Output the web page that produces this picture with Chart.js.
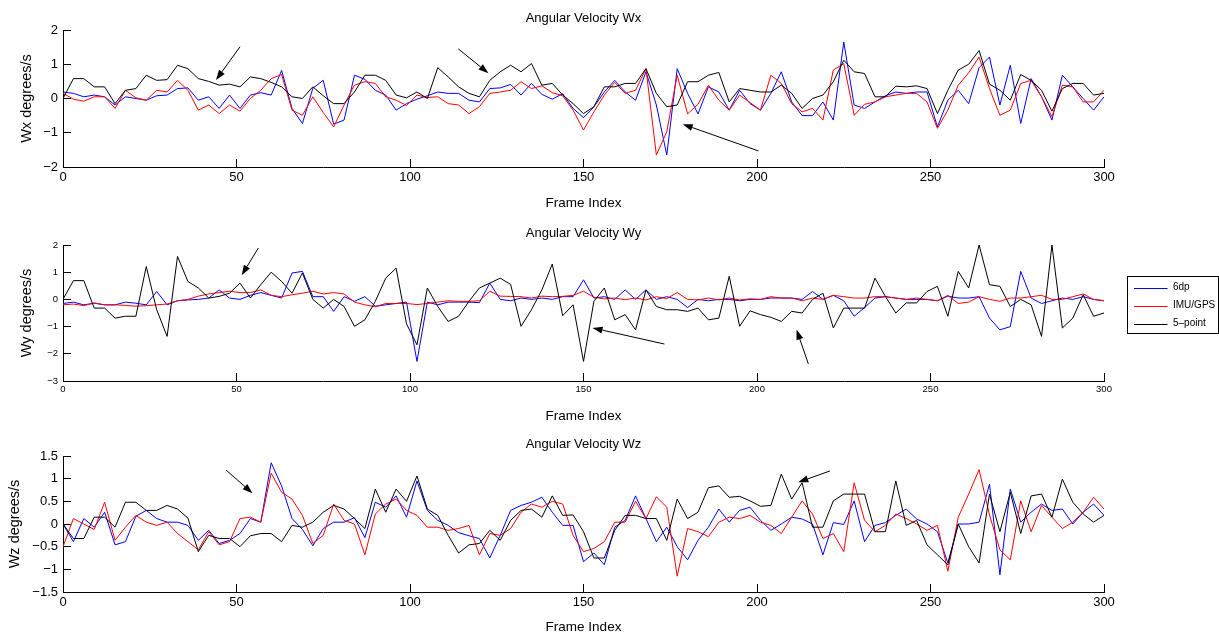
<!DOCTYPE html>
<html>
<head>
<meta charset="utf-8">
<script src="https://cdn.jsdelivr.net/npm/chart.js@4.4.1/dist/chart.umd.min.js"></script>
<style>
  html, body { margin: 0; padding: 0; background: #fff; overflow: hidden; width: 1219px; height: 635px; position: relative; }
  canvas { position: absolute; left: 0; }
</style>
</head>
<body>
<canvas id="wx" width="1219" height="215"></canvas>
<canvas id="wy" width="1219" height="215"></canvas>
<canvas id="wz" width="1219" height="215"></canvas>
<script>
// frame index of each sample
const frames = [0,3,6,9,12,15,18,21,24,27,30,33,36,39,42,45,48,51,54,57,60,63,66,69,72,75,78,81,84,87,90,93,96,99,
  102,105,108,111,114,117,120,123,126,129,132,135,138,141,144,147,150,153,156,159,162,165,168,171,174,177,180,183,186,189,192,195,198,
  201,204,207,210,213,216,219,222,225,228,231,234,237,240,243,246,249,252,255,258,261,264,267,270,273,276,279,282,285,288,291,294,297,300];

const seriesNames = ['6dp', 'IMU/GPS', '5–point'];
const seriesColors = ['#0000ff', '#ff0000', '#000000'];
const xTicks = [0, 50, 100, 150, 200, 250, 300];

// Wx (degrees/s)
const wx6dp = [0.19,0.15,0.05,0.1,0.05,-0.19,0.05,0,-0.05,0.08,0.1,0.29,0.31,-0.05,0.05,-0.29,0.1,
  -0.29,0.1,0.17,0.1,0.82,-0.29,-0.73,0.3,0.53,-0.75,-0.63,0.68,0.56,0.24,0.1,-0.34,-0.15,
  -0.02,0.08,0.19,0.15,0.15,-0.05,-0.1,0.29,0.31,0.41,0.1,0.44,0.12,-0.02,0.14,-0.29,-0.56,
  -0.24,0.19,0.53,0.19,-0.05,0.78,-0.19,-1.65,0.87,0.15,-0.45,0.34,0.19,-0.34,0.24,-0.15,-0.34,
  0.15,0.78,-0.1,-0.5,-0.5,-0.1,-0.63,1.65,-0.19,-0.29,-0.1,0.08,0.19,0.15,0.19,0.19,-0.83,
  -0.05,0.24,-0.15,0.9,1.21,-0.19,0.97,-0.73,0.58,0.05,-0.63,0.68,0.34,0,-0.34,0.05];
const wxImu = [0.15,-0.02,-0.08,0.05,0.05,-0.29,0.24,0.02,-0.05,0.24,0.19,0.53,0.24,-0.34,-0.19,-0.44,-0.19,
  -0.37,0,0.24,0.58,0.7,-0.34,-0.49,0.05,-0.41,-0.83,-0.19,0.39,0.49,0.44,0.05,-0.05,-0.2,
  0.1,0.03,0.05,-0.15,-0.19,-0.44,-0.24,0.15,0.19,0.24,0.49,0.29,0.37,0.17,0.08,-0.34,-0.92,
  -0.39,0.1,0.47,0.15,0.24,0.87,-1.65,-0.97,0.68,-0.45,-0.17,0.39,-0.05,-0.34,0.1,-0.12,-0.34,
  0.68,0.44,-0.15,-0.39,-0.29,-0.63,0.83,1.02,-0.49,-0.17,-0.1,0.05,0.1,0.15,0.15,-0.1,-0.87,
  -0.34,0.39,0.75,1.21,0.29,-0.49,-0.34,0.44,0.53,0.05,-0.53,0.39,0.34,-0.1,-0.1,0.24];
const wx5pt = [0,0.58,0.58,0.34,0.34,-0.15,0.24,0.29,0.68,0.53,0.55,0.97,0.87,0.58,0.5,0.39,0.42,
  0.34,0.63,0.58,0.47,0.34,0.05,0,0.34,0.08,-0.15,-0.15,0.19,0.68,0.68,0.53,0.1,0.02,
  0.19,0,0.9,0.63,0.34,0.15,0.05,0.53,0.78,0.97,0.78,1.02,0.39,0.44,0.1,-0.15,-0.44,
  -0.24,0.34,0.34,0.44,0.44,0.87,0.15,-0.24,-0.19,0.49,0.49,0.68,0.76,-0.1,0.29,0.24,0.19,
  0.19,0.39,0.15,-0.29,0,0.1,0.49,1.12,0.78,0.73,0.05,0.05,0.36,0.34,0.37,0.29,-0.44,
  0.24,0.83,1.0,1.4,0.42,0.24,-0.05,0.7,0.53,0.24,-0.37,0.29,0.44,0.44,0.1,0.15];

// Wy (degrees/s)
const wy6dp = [-0.15,-0.1,-0.2,-0.14,-0.2,-0.2,-0.1,-0.14,-0.2,0.29,-0.2,-0.05,-0.02,0,0.05,0.35,0.05,
  0,0.15,0.25,0.15,0.05,0.97,1.03,0.1,0.1,-0.44,0.1,-0.07,0.1,-0.25,-0.2,-0.15,-0.1,
  -2.28,-0.1,-0.2,-0.1,-0.1,-0.1,-0.12,0.6,0,-0.05,0.05,0,0.05,0,0.1,0.1,0.72,
  0.05,0.1,0,0.35,0,0.35,0,0.1,0,-0.3,0,-0.05,0,0,-0.05,0,0,
  0.05,0.05,0.05,0,0.29,0,0.15,-0.05,-0.62,-0.3,0.05,0.1,0.05,0,0,0,-0.05,
  0.12,0.05,0.05,0.1,-0.69,-1.12,-1.0,1.03,0.05,-0.15,-0.05,0.05,0,0.1,0,-0.05];
const wyImu = [-0.2,-0.17,-0.23,-0.13,-0.2,-0.2,-0.22,-0.25,-0.23,-0.2,-0.17,-0.05,0,0.12,0.2,0.25,0.3,
  0.25,0.25,0.35,0.15,0.1,0.17,0.23,0.3,0.2,0.25,0.2,-0.1,-0.2,-0.27,-0.15,-0.15,-0.15,
  -0.19,-0.15,-0.1,-0.05,-0.07,-0.07,-0.05,0.3,0.12,0.11,0.1,0.05,0.12,0.1,0.11,0.15,0.3,
  0.08,0.02,0.05,-0.01,0.05,-0.02,0.1,0.03,0.25,0,-0.02,0.05,-0.02,0.05,-0.02,0.02,0,
  0.1,0.05,0.05,-0.05,0.05,0,0.15,0.1,0.05,0.05,0.1,0.1,0.05,0,0.05,0,-0.05,
  0.15,-0.15,-0.1,0.1,0,-0.07,0.05,0.05,0.1,0.15,0,0,0.1,0.2,0,-0.05];
const wy5pt = [0,0.69,0.69,-0.32,-0.32,-0.69,-0.62,-0.62,1.21,-0.38,-1.36,1.58,0.66,0.42,0.05,0.11,0.23,
  0.6,0.05,0.54,1.0,0.66,0.23,0.97,0,-0.32,0,-0.26,-0.99,-0.75,-0.07,0.78,1.15,-0.9,
  -1.67,0.42,-0.26,-0.81,-0.62,-0.07,0.42,0.6,0.78,0.55,-0.99,-0.38,0.35,1.3,-0.6,-0.2,-2.28,
  -0.07,0.42,-0.75,-0.56,-1.12,0.35,-0.26,-0.38,-0.38,-0.44,-0.32,-0.75,-0.69,0.85,-0.99,-0.42,-0.56,
  -0.66,-0.81,-0.44,-0.5,0,0.23,-1.05,-0.32,-0.32,-0.32,0.78,0.11,-0.5,-0.13,-0.13,0.29,0.48,
  -0.62,1.03,0.42,2.0,0.54,0.48,-0.26,0,-0.2,-1.36,2.0,-1.05,-0.69,0.17,-0.62,-0.5];

// Wz (degrees/s)
const wz6dp = [0,-0.39,0.12,-0.07,0.26,-0.46,-0.39,0.17,0.3,0.12,0.04,0.04,-0.03,-0.36,-0.14,-0.43,-0.36,
  -0.21,0.12,0.04,1.35,0.84,0.12,-0.12,-0.48,-0.1,0.04,0.04,0.14,-0.3,0.48,0.37,0.62,0.15,
  0.95,0.3,0.08,-0.03,-0.19,-0.26,-0.32,-0.75,-0.25,0.3,0.41,0.48,0.59,0.26,-0.03,-0.03,-0.83,
  -0.64,-0.9,-0.07,0.08,0.62,0.12,-0.39,-0.07,-0.5,-0.79,-0.36,-0.07,0.33,0.04,0.3,0.37,0.08,
  -0.14,0,0.15,0.11,0,-0.68,0.03,-0.01,0.51,-0.39,-0.03,0.03,0.19,0.33,0.11,0,-0.17,
  -0.86,0,0,0.04,0.88,-1.12,0.77,0.04,0.26,0.44,0.3,0.33,0,0.26,0.44,0.19];
const wzImu = [-0.5,0.12,0,-0.12,0.48,-0.36,-0.07,0.19,0.04,-0.03,0.04,-0.21,-0.39,-0.57,-0.17,-0.46,-0.39,
  0.12,0.15,0.04,1.12,0.7,0.55,0.19,-0.43,-0.25,0.44,0.08,0,-0.68,0.22,0.44,0.55,0.3,
  0.19,-0.07,-0.07,-0.14,-0.1,-0.03,-0.68,-0.21,-0.25,-0.1,0.26,0.44,0.37,0.5,0.44,-0.25,-0.61,
  -0.54,-0.39,0.04,0.04,0.5,0.12,0.6,0.37,-1.15,-0.1,-0.17,-0.28,0.04,0.15,0.12,0.19,0.04,
  -0.03,-0.21,0.15,0.51,0.22,-0.32,-0.21,-0.61,0.91,0.08,-0.17,-0.03,0.22,0.12,0,-0.14,-0.03,
  -1.04,0.15,0.66,1.2,0.2,-0.57,-0.79,0.51,-0.17,0.41,0.15,-0.1,0.04,0.26,0.59,0.33];
const wz5pt = [0,-0.32,-0.32,0.15,0.15,-0.07,0.48,0.48,0.3,0.3,0.41,0.33,0.13,-0.61,-0.25,-0.32,-0.32,
  -0.5,-0.26,-0.21,-0.21,-0.39,-0.03,-0.07,0.04,0.26,0.41,0.33,0.12,-0.1,0.77,0.26,0.77,0.5,
  1.06,0.33,0.19,-0.25,-0.64,-0.46,-0.43,-0.14,-0.36,0.08,0.3,0.33,0.15,0.62,0.19,0.2,-0.17,
  -0.75,-0.75,-0.14,0.19,0.19,0.12,0.12,-0.36,0.55,0.12,0.26,0.8,0.84,0.59,0.61,0.51,0.39,
  0.41,1.1,0.55,0.91,-0.07,-0.07,0.51,0.66,0.66,0.66,-0.17,-0.17,0.95,-0.03,0.08,-0.46,-0.68,
  -0.9,0,-0.5,-0.86,0.66,-0.17,0.7,-0.21,0.62,0.66,0.15,0.99,0.48,0.22,0.04,0.19];

// annotation arrows: [fromFrame, fromValue, toFrame, toValue]
const wxArrows = [[51, 1.51, 44.1, 0.54], [113.9, 1.45, 122.6, 0.74], [200.4, -1.53, 178.6, -0.75]];
const wyArrows = [[56.3, 1.89, 51.5, 0.89], [173.3, -1.64, 152.6, -1.05], [214.8, -2.37, 211.4, -1.11]];
const wzArrows = [[47, 1.19, 54.6, 0.68], [221, 1.17, 211.9, 0.92]];

const FONT = "'Liberation Sans', Arial, Helvetica, sans-serif";
Chart.defaults.font.family = FONT;
Chart.defaults.color = '#000';
Chart.defaults.animation = false;

const pts = vals => frames.map((f, i) => ({ x: f, y: vals[i] }));
const fmt = v => String(Math.round(v * 10) / 10).replace('-', '\u2212');

function arrowPlugin(list) {
  return {
    id: 'arrows',
    afterDatasetsDraw(chart) {
      const { ctx, scales: { x, y } } = chart;
      ctx.save();
      ctx.strokeStyle = '#000';
      ctx.fillStyle = '#000';
      ctx.lineWidth = 1;
      list.forEach(([fx, fy, tx, ty]) => {
        const x0 = x.getPixelForValue(fx), y0 = y.getPixelForValue(fy);
        const x1 = x.getPixelForValue(tx), y1 = y.getPixelForValue(ty);
        const a = Math.atan2(y1 - y0, x1 - x0);
        const bx = x1 - 10 * Math.cos(a), by = y1 - 10 * Math.sin(a);
        ctx.beginPath();
        ctx.moveTo(x0, y0);
        ctx.lineTo(bx, by);
        ctx.stroke();
        ctx.beginPath();
        ctx.moveTo(x1, y1);
        ctx.lineTo(bx - 3.5 * Math.sin(a), by + 3.5 * Math.cos(a));
        ctx.lineTo(bx + 3.5 * Math.sin(a), by - 3.5 * Math.cos(a));
        ctx.closePath();
        ctx.fill();
      });
      ctx.restore();
    }
  };
}

// boxed legend to the right of the plot, drawn from the chart's own datasets
const boxLegend = {
  id: 'boxLegend',
  afterDraw(chart) {
    const { ctx, chartArea } = chart;
    const left = chartArea.right + 23.5, top = 64.5, w = 91, h = 57;
    ctx.save();
    ctx.fillStyle = '#fff';
    ctx.fillRect(left, top, w, h);
    ctx.strokeStyle = '#000';
    ctx.lineWidth = 1;
    ctx.strokeRect(left, top, w, h);
    ctx.font = '10px ' + FONT;
    ctx.textBaseline = 'middle';
    chart.data.datasets.forEach((ds, i) => {
      const y = top + 11 + i * 18;
      ctx.strokeStyle = ds.borderColor;
      ctx.beginPath();
      ctx.moveTo(left + 6.5, Math.round(y) + 0.5);
      ctx.lineTo(left + 40, Math.round(y) + 0.5);
      ctx.stroke();
      ctx.fillStyle = '#000';
      ctx.fillText(ds.label, left + 45.5, y);
    });
    ctx.restore();
  }
};

const H = 215;

function makePanel(id, p) {
  const el = document.getElementById(id);
  el.style.top = p.canvasTop + 'px';
  const titleTop = p.titleY - p.canvasTop - 7.8;
  const titleBottom = p.areaTop - p.canvasTop - titleTop - 15.6;
  const xHeight = p.canvasTop + H - p.areaBottom;
  const xTitlePad = p.canvasTop + H - p.xTitleY - 8.1;

  const axisLine = { display: true, color: '#000', width: 1 };
  const tickGrid = { display: true, drawOnChartArea: false, drawTicks: true, tickLength: -8, color: '#000', tickColor: '#000', lineWidth: 1 };

  const plugins = [arrowPlugin(p.arrows)];
  if (p.legend) plugins.push(boxLegend);

  return new Chart(el, {
    type: 'line',
    data: {
      datasets: [
        { label: seriesNames[0], data: pts(p.blue), borderColor: seriesColors[0], order: 3 },
        { label: seriesNames[1], data: pts(p.red), borderColor: seriesColors[1], order: 2 },
        { label: seriesNames[2], data: pts(p.black), borderColor: seriesColors[2], order: 1 },
      ],
    },
    options: {
      responsive: false,
      animation: false,
      events: [],
      datasets: { line: { borderWidth: 1, pointRadius: 0, tension: 0, fill: false } },
      layout: { padding: { left: 0, right: 115, top: 0, bottom: 0 } },
      scales: {
        x: {
          type: 'linear', min: 0, max: 300,
          afterBuildTicks: s => { s.ticks = xTicks.map(v => ({ value: v })); },
          ticks: { font: { size: p.tickSize }, color: '#000', padding: 11, maxRotation: 0, autoSkip: false },
          grid: tickGrid,
          border: axisLine,
          title: { display: true, text: 'Frame Index', font: { size: 13.5 }, color: '#000', padding: { top: 0, bottom: xTitlePad } },
          afterFit: s => { s.height = xHeight; },
        },
        y: {
          min: p.min, max: p.max,
          ticks: { stepSize: p.step, font: { size: p.tickSize }, color: '#000', padding: 13, callback: v => fmt(v) },
          grid: tickGrid,
          border: axisLine,
          title: { display: true, text: p.ylabel, font: { size: 14.5 }, color: '#000', padding: { top: p.yTitleX - 8.7, bottom: 0 } },
          afterFit: s => { s.width = 63; },
        },
      },
      plugins: {
        legend: { display: false },
        tooltip: { enabled: false },
        title: {
          display: true, text: p.title, fullSize: false, color: '#000',
          font: { size: 13, weight: 'normal', lineHeight: 1.2 },
          padding: { top: titleTop, bottom: titleBottom },
        },
      },
    },
    plugins,
  });
}

makePanel('wx', { canvasTop: 0, areaTop: 30, areaBottom: 167, titleY: 18, xTitleY: 203, yTitleX: 27,
  title: 'Angular Velocity Wx', ylabel: 'Wx degrees/s', min: -2, max: 2, step: 1, tickSize: 13,
  blue: wx6dp, red: wxImu, black: wx5pt, arrows: wxArrows });

makePanel('wy', { canvasTop: 212, areaTop: 245, areaBottom: 381, titleY: 233, xTitleY: 416, yTitleX: 27,
  title: 'Angular Velocity Wy', ylabel: 'Wy degrees/s', min: -3, max: 2, step: 1, tickSize: 9.5,
  blue: wy6dp, red: wyImu, black: wy5pt, arrows: wyArrows, legend: true });

makePanel('wz', { canvasTop: 424, areaTop: 456, areaBottom: 592, titleY: 444, xTitleY: 627, yTitleX: 15,
  title: 'Angular Velocity Wz', ylabel: 'Wz degrees/s', min: -1.5, max: 1.5, step: 0.5, tickSize: 13,
  blue: wz6dp, red: wzImu, black: wz5pt, arrows: wzArrows });
</script>
</body>
</html>
